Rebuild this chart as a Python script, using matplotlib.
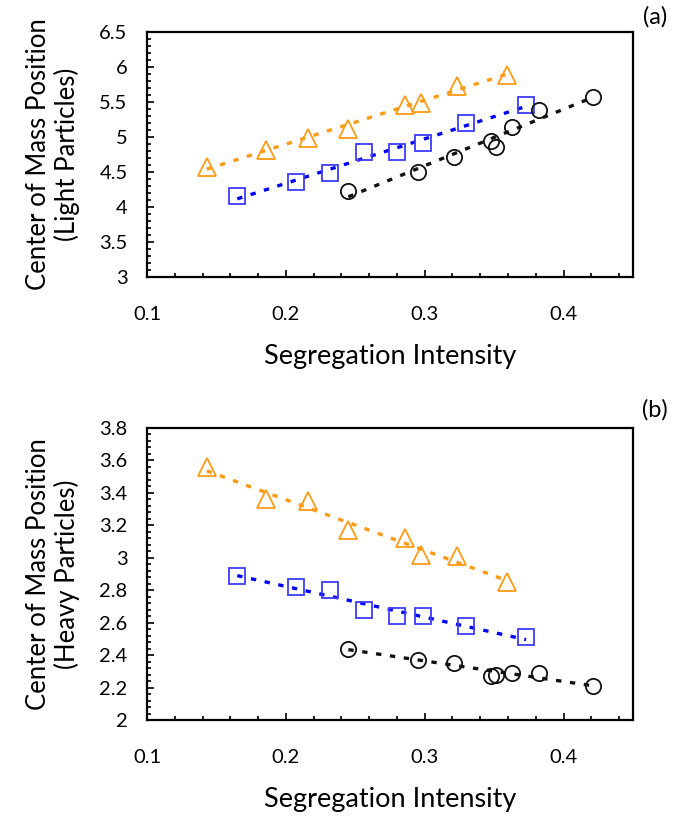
import numpy as np
import matplotlib
matplotlib.use("Agg")
import matplotlib.pyplot as plt
from matplotlib.ticker import MultipleLocator, FuncFormatter

plt.rcParams['font.family'] = ['Lato', 'DejaVu Sans']

# Segregation intensity (x) for each series
x_tri = [0.143, 0.186, 0.216, 0.245, 0.286, 0.297, 0.323, 0.359]
x_sq = [0.165, 0.207, 0.232, 0.256, 0.280, 0.299, 0.330, 0.373]
x_circ = [0.245, 0.295, 0.321, 0.348, 0.351, 0.363, 0.382, 0.421]

# Panel (a): light particles
light_tri = [4.57, 4.82, 4.98, 5.11, 5.46, 5.49, 5.73, 5.88]
light_sq = [4.16, 4.36, 4.49, 4.78, 4.78, 4.92, 5.20, 5.46]
light_circ = [4.23, 4.50, 4.72, 4.94, 4.86, 5.15, 5.38, 5.57]

# Panel (b): heavy particles
heavy_tri = [3.56, 3.36, 3.35, 3.17, 3.12, 3.02, 3.01, 2.85]
heavy_sq = [2.89, 2.82, 2.80, 2.68, 2.64, 2.64, 2.58, 2.51]
heavy_circ = [2.44, 2.37, 2.35, 2.27, 2.28, 2.29, 2.29, 2.21]

ORANGE = '#FF9A14'
BLUE_M = '#3C3CFF'
BLUE_L = '#0000FF'
BLACK = '#111111'

W, H = 695, 819
fig = plt.figure(figsize=(W / 100, H / 100), dpi=100)

def add_ax(left, right, top, bottom):
    return fig.add_axes([left / W, 1 - bottom / H, (right - left) / W, (bottom - top) / H])

ax1 = add_ax(147, 633, 32, 277)
ax2 = add_ax(147, 633, 428, 720)

series = [
    (x_tri, '^', ORANGE, ORANGE, 12.5),
    (x_sq, 's', BLUE_M, BLUE_L, 11),
    (x_circ, 'o', BLACK, BLACK, 11),
]

def draw(ax, ys, ylim, ymaj, ymin, ylabel):
    for (xs, mk, mc, lc, ms), y in zip(series, ys):
        xs = np.array(xs); y = np.array(y)
        ax.plot(xs, y, linestyle='none', marker=mk, markersize=ms,
                markerfacecolor='none', markeredgecolor=mc, markeredgewidth=1.3, zorder=3)
        p = np.polyfit(xs, y, 1)
        xf = np.array([xs.min(), xs.max()])
        ax.plot(xf, np.polyval(p, xf), color=lc, linewidth=2.4,
                dashes=(1.6, 2.6), zorder=2)
    ax.set_xlim(0.1, 0.45)
    ax.set_ylim(*ylim)
    ax.xaxis.set_major_locator(MultipleLocator(0.1))
    ax.xaxis.set_minor_locator(MultipleLocator(0.02))
    ax.yaxis.set_major_locator(MultipleLocator(ymaj))
    ax.yaxis.set_minor_locator(MultipleLocator(ymin))
    fmt = FuncFormatter(lambda v, pos: ('%g' % round(v, 6)))
    ax.xaxis.set_major_formatter(fmt)
    ax.yaxis.set_major_formatter(fmt)
    ax.tick_params(axis='both', which='both', direction='in', top=False, right=False,
                   labelsize=14.5, colors='black', width=1.2)
    ax.tick_params(axis='both', which='major', length=5)
    ax.tick_params(axis='both', which='minor', length=3)
    ax.tick_params(axis='y', which='major', pad=14)
    ax.tick_params(axis='x', which='major', pad=21)
    for s in ax.spines.values():
        s.set_linewidth(1.6)
        s.set_color('black')
    ax.set_xlabel('Segregation Intensity', fontsize=19.5, labelpad=15)
    ax.set_ylabel(ylabel, fontsize=18.5, labelpad=14, linespacing=1.15)

draw(ax1, [light_tri, light_sq, light_circ], (3, 6.5), 0.5, 0.1,
     'Center of Mass Position\n(Light Particles)')
draw(ax2, [heavy_tri, heavy_sq, heavy_circ], (2, 3.8), 0.2, 0.04,
     'Center of Mass Position\n(Heavy Particles)')

fig.text(655 / W, 1 - 17 / H, '(a)', fontsize=17, ha='center', va='center')
fig.text(655 / W, 1 - 410 / H, '(b)', fontsize=17, ha='center', va='center')

fig.savefig('out.png', dpi=100, facecolor='white')
